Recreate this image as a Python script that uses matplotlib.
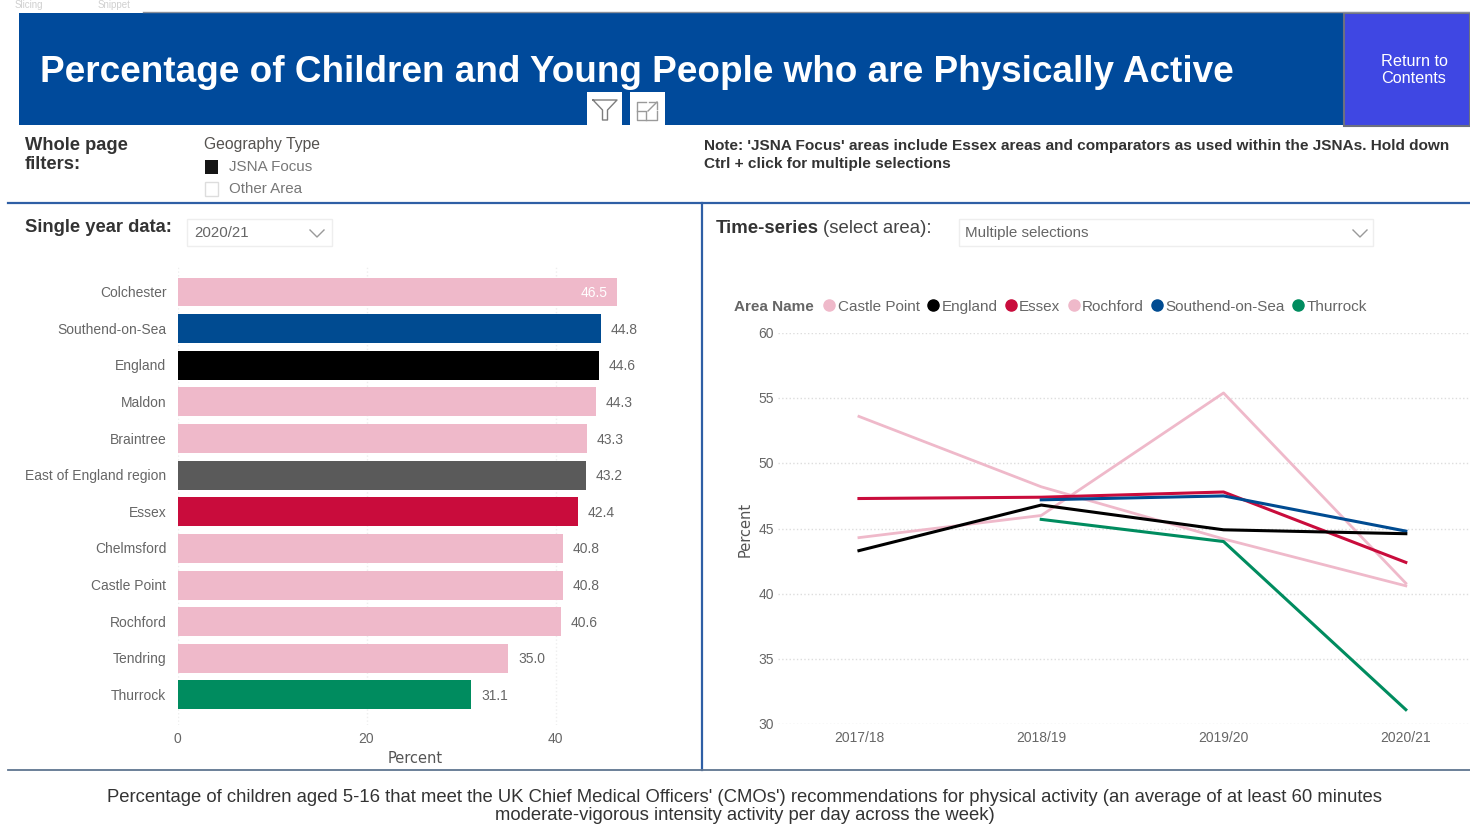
"""
Dashboard: percentage of children and young people who are physically active
"""
import matplotlib
matplotlib.use('Agg')
import matplotlib.pyplot as plt
from matplotlib.lines import Line2D
from matplotlib.patches import Rectangle
from matplotlib.transforms import ScaledTranslation

plt.rcParams['font.family'] = ['Liberation Sans', 'DejaVu Sans']

# Dados - barras (2020/21)
areas = ['Colchester', 'Southend-on-Sea', 'England', 'Maldon', 'Braintree',
         'East of England region', 'Essex', 'Chelmsford', 'Castle Point',
         'Rochford', 'Tendring', 'Thurrock']
area_vals = [46.5, 44.8, 44.6, 44.3, 43.3, 43.2, 42.4, 40.8, 40.8, 40.6, 35.0, 31.1]
PINK = '#efb9ca'
NAVY = '#004b91'
RED = '#c90c3c'
GREEN = '#008c5f'
area_cols = [PINK, NAVY, 'black', PINK, PINK, '#5a5a5a', RED, PINK, PINK, PINK, PINK, GREEN]

# Dados - series temporais
years = ['2017/18', '2018/19', '2019/20', '2020/21']
castle_point = [44.3, 46.0, 55.4, 40.8]
rochford = [53.6, 48.2, 44.2, 40.6]
england = [43.3, 46.8, 44.9, 44.6]
essex = [47.3, 47.4, 47.8, 42.4]
southend = [None, 47.2, 47.5, 44.8]
thurrock = [None, 45.7, 44.0, 31.1]

W, H = 1470, 837
TXT = '#55524f'


def box(left, top, right, bottom):
    return [left/W, 1 - (bottom + 1)/H, (right - left)/W, (bottom - top)/H]


def nudge_ylabels(ax, pixels):
    # sobe os rotulos do eixo y alguns pixels
    shift = ScaledTranslation(0, pixels/100, fig.dpi_scale_trans)
    for lab in ax.get_yticklabels():
        lab.set_transform(lab.get_transform() + shift)


fig = plt.figure(figsize=(14.7, 8.37), dpi=100, facecolor='white')

# Camada de fundo em pixels (banner, filtros, divisorias)
bg = fig.add_axes([0, 0, 1, 1])
bg.set_xlim(0, W)
bg.set_ylim(H - 1, -1)
bg.axis('off')

bg.add_patch(Rectangle((143, 0), W - 143, 12, fc='white', ec='none'))
bg.plot([143, W], [12, 12], color='#8a8f99', lw=1)
bg.text(15, 4, 'Slicing', fontsize=7, color='#c4c4c4', va='center', alpha=.8)
bg.text(98, 4, 'Snippet', fontsize=7, color='#c4c4c4', va='center', alpha=.8)
bg.add_patch(Rectangle((19, 13), 1325, 112, fc='#004a9b', ec='none'))
bg.add_patch(Rectangle((1344, 13), 126, 113, fc='#3f47e3', ec='#6c7080', lw=1.5))
bg.text(40, 71.5, 'Percentage of Children and Young People who are Physically Active',
        color='white', fontsize=26.6, fontweight='bold', va='center', ha='left')
bg.text(1414, 69, 'Return to\nContents', color='white', fontsize=11.7, ha='center',
        va='center', linespacing=1.15)

# Icones de filtro e foco
bg.add_patch(Rectangle((587, 92), 35, 34, fc='white', ec='none'))
bg.add_patch(Rectangle((630, 92), 35, 34, fc='white', ec='none'))
bg.plot([593, 617, 607.5, 607.5, 602.5, 602.5, 593],
        [100, 100, 110, 120, 120, 110, 100], color='#7d7d7d', lw=1)
bg.plot([646, 637, 637, 657, 657], [102, 102, 120, 120, 111], color='#9a9a9a', lw=1)
bg.plot([637, 646, 646], [111, 111, 120], color='#9a9a9a', lw=1)
bg.plot([649, 657, 657], [102, 102, 109], color='#9a9a9a', lw=1)
bg.plot([648, 657], [111, 102], color='#9a9a9a', lw=1)

# Filtros
bg.text(25, 154, 'Whole page\nfilters:', fontsize=13.2, color='#333333', fontweight='bold',
        va='center', linespacing=1.15)
bg.text(204, 143, 'Geography Type', fontsize=11.3, color=TXT, va='center')
bg.add_patch(Rectangle((205, 160), 13.5, 13.5, fc='#151515', ec='none'))
bg.add_patch(Rectangle((205, 182), 13.5, 13.5, fc='white', ec='#dddddd', lw=1))
bg.text(229, 166, 'JSNA Focus', fontsize=10.9, color='#777777', va='center')
bg.text(229, 188, 'Other Area', fontsize=10.9, color='#777777', va='center')
bg.text(704, 154, "Note: 'JSNA Focus' areas include Essex areas and comparators as used "
        "within the JSNAs. Hold down\nCtrl + click for multiple selections",
        fontsize=11.06, fontweight='bold', color='#333333', va='center', linespacing=1.35)

# Divisorias
bg.plot([8, W], [203, 203], color='#2f5fa5', lw=1.6)
bg.plot([702, 702], [203, 770], color='#2f5fa5', lw=1.6)
bg.plot([8, W], [770, 770], color='#5f7590', lw=1.3)

# Seletores
bg.text(25, 226.5, 'Single year data:', fontsize=13.2, fontweight='bold', color='#333333', va='center')
bg.add_patch(Rectangle((187, 219), 145, 27, fc='white', ec='#eeeeee', lw=1))
bg.text(194, 232, '2020/21', fontsize=10.8, color='#666666', va='center')
bg.plot([310, 317, 324], [230, 237, 230], color='#999999', lw=1)
bg.text(716, 227.5, 'Time-series', fontsize=13.4, fontweight='bold', color='#333333', va='center')
bg.text(823, 227.5, '(select area):', fontsize=13.4, color='#444444', va='center')
bg.add_patch(Rectangle((959, 219), 414, 27, fc='white', ec='#eeeeee', lw=1))
bg.text(965, 232, 'Multiple selections', fontsize=10.9, color='#666666', va='center')
bg.plot([1353, 1360, 1367], [230, 237, 230], color='#999999', lw=1)

# Nota de rodape
bg.text(745, 805.5, "Percentage of children aged 5-16 that meet the UK Chief Medical Officers' (CMOs') "
        "recommendations for physical activity (an average of at least 60 minutes\n"
        "moderate-vigorous intensity activity per day across the week)",
        fontsize=13.3, color='#333333', ha='center', va='center', linespacing=1.15)

# Barras: 0 em x=177.5 px, 9.45 px por unidade, passo de 36.65 px
ax1 = fig.add_axes(box(177.5, 265, 652, 725))
ax1.patch.set_alpha(0)
ax1.barh(range(len(areas)), area_vals, height=0.79, color=area_cols, zorder=2)
ax1.set_xlim(0, 50.2)
ax1.set_ylim(11.82, -0.737)
ax1.set_yticks(range(len(areas)))
ax1.set_yticklabels(areas)
ax1.set_xticks([0, 20, 40])
ax1.tick_params(length=0, labelsize=10, labelcolor='#666666')
ax1.tick_params(axis='y', pad=8)
ax1.tick_params(axis='x', pad=4)
ax1.grid(axis='x', color='#eeeeee', ls=':', lw=1, zorder=0)
for s in ax1.spines.values():
    s.set_visible(False)
ax1.set_xlabel('Percent', fontsize=10.5, color='#555555', family='DejaVu Sans', labelpad=4)
nudge_ylabels(ax1, 1.5)

for i, v in enumerate(area_vals):
    if i == 0:
        ax1.annotate(f'{v:.1f}', (v, i), xytext=(-7, 0), textcoords='offset points', ha='right',
                     va='center', fontsize=10, color='white')
    else:
        ax1.annotate(f'{v:.1f}', (v, i), xytext=(7, 0), textcoords='offset points', ha='left',
                     va='center', fontsize=10, color='#666666')

# Series temporais: 2017/18 em x=859 px, passo de 182.3 px
ax2 = fig.add_axes(box(778, 333, W, 724))
ax2.patch.set_alpha(0)
xs = range(len(years))
ax2.plot(xs, castle_point, color=PINK, lw=2, zorder=3, label='Castle Point')
ax2.plot(xs, rochford, color=PINK, lw=2, zorder=3, label='Rochford')
ax2.plot(xs, thurrock, color=GREEN, lw=2.2, zorder=4, label='Thurrock')
ax2.plot(xs, essex, color=RED, lw=2.2, zorder=5, label='Essex')
ax2.plot(xs, southend, color=NAVY, lw=2.2, zorder=6, label='Southend-on-Sea')
ax2.plot(xs, england, color='black', lw=2.2, zorder=7, label='England')
ax2.set_xlim(-0.444, 3.352)
ax2.set_ylim(30, 60)
ax2.set_xticks(list(xs))
ax2.set_xticklabels(years)
ax2.set_yticks([30, 35, 40, 45, 50, 55, 60])
ax2.tick_params(length=0, labelsize=10, labelcolor='#666666')
ax2.tick_params(axis='y', pad=3)
ax2.tick_params(axis='x', pad=4)
ax2.grid(axis='y', color='#dddddd', ls=':', lw=1, zorder=0)
for s in ax2.spines.values():
    s.set_visible(False)
ax2.set_ylabel('Percent', fontsize=10.5, color='#555555', family='DejaVu Sans', labelpad=4)
nudge_ylabels(ax2, 1.5)

# Legenda
bg.text(734, 306, 'Area Name', fontsize=11, fontweight='bold', color='#666666', va='center')
leg_names = ['Castle Point', 'England', 'Essex', 'Rochford', 'Southend-on-Sea', 'Thurrock']
leg_cols = [PINK, 'black', RED, PINK, NAVY, GREEN]
handles = [Line2D([], [], ls='none', marker='o', ms=8, color=c) for c in leg_cols]
fig.legend(handles, leg_names, ncol=6, frameon=False, fontsize=11, labelcolor='#666666',
           loc='center left', bbox_to_anchor=(818/W, 1 - 307.5/H), borderpad=0, borderaxespad=0,
           handletextpad=-0.2, columnspacing=0.12, handlelength=1.5)

fig.savefig('out.png', dpi=100)
